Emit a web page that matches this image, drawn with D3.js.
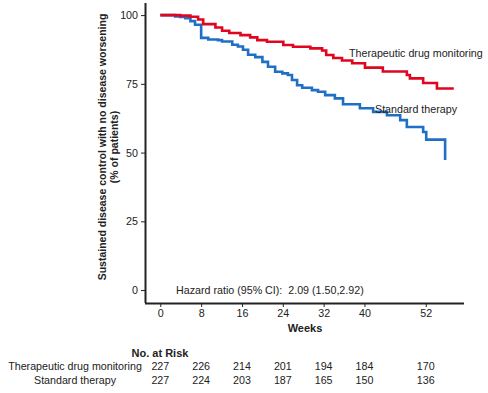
<!DOCTYPE html>
<html><head><meta charset="utf-8">
<script src="https://cdn.jsdelivr.net/npm/d3@7"></script>
<style>body{margin:0;background:#fff}text{font-family:"Liberation Sans",Arial,sans-serif;fill:#222}</style>
</head><body><svg id="c" width="488" height="393"></svg>
<script>
const xTicks=[0,8,16,24,32,40,52];
const yTicks=[0,25,50,75,100];
const seriesNames=["Therapeutic drug monitoring","Standard therapy"];
const tdmWeeks=[0,3.9,5.9,7.4,8.4,10.8,12.1,13.5,15.7,17.6,19.0,20.9,24.1,26.0,29.4,31.7,32.5,33.9,35.6,37.6,40.1,43.6,48.3,48.9,51.5,54.2,57.5];
const tdmValues=[100,99.8,99.4,98.4,96.7,95.5,94.3,93.5,92.7,91.9,90.9,90.3,89.1,88.5,87.9,87.1,85.5,84.4,83.5,82.5,80.9,79.5,78.2,77.0,75.3,73.3,73.3];
const stdWeeks=[0,2.9,3.9,4.9,5.9,6.8,8.0,9.4,11.3,12.1,14.1,15.2,16.2,17.2,18.6,20.0,21.1,22.5,23.9,25.0,25.8,26.8,27.8,29.7,30.9,32.3,34.2,35.8,39.1,41.7,44.4,47.0,48.3,51.5,52.1,55.6,55.8];
const stdValues=[100,99.5,99.3,98.9,97.8,96.5,91.7,91.1,90.9,90.4,89.2,88.6,87.4,85.6,84.7,83.0,81.2,79.4,78.8,78.2,76.4,74.5,73.6,72.7,72.1,70.9,69.7,67.6,66.1,64.8,63.6,61.8,59.3,57.5,54.7,54.7,47.3];
const riskTdm=[227,226,214,201,194,184,170];
const riskStd=[227,224,203,187,165,150,136];
const hazardText="Hazard ratio (95% CI):  2.09 (1.50,2.92)";

const svg=d3.select("#c");
const x=d3.scaleLinear().domain([-3,59.5]).range([145,464]);
const y=d3.scaleLinear().domain([-4.7,104.4]).range([303,3]);
const colors=["#e0061f","#1f6fc5"];

const line=d3.line().x(d=>x(d[0])).y(d=>y(d[1])).curve(d3.curveStepAfter);
const data=[tdmWeeks.map((w,i)=>[w,tdmValues[i]]),stdWeeks.map((w,i)=>[w,stdValues[i]])];
[1,0].forEach(k=>{
  svg.append("path").attr("d",line(data[k])).attr("fill","none").attr("stroke",colors[k]).attr("stroke-width",2.6);
});

const xa=svg.append("g").attr("transform","translate(0,303)").call(d3.axisBottom(x).tickValues(xTicks).tickSize(4).tickPadding(2));
const ya=svg.append("g").attr("transform","translate(145,0)").call(d3.axisLeft(y).tickValues(yTicks).tickSize(4).tickPadding(3));
[xa,ya].forEach(g=>{
  g.select(".domain").attr("stroke","#222").attr("stroke-width",2);
  g.selectAll(".tick line").attr("stroke","#222").attr("stroke-width",1);
  g.selectAll(".tick text").attr("fill","#222").style("font-size","10.7px").style("font-family",'"Liberation Sans",Arial,sans-serif');
});
xa.select(".domain").attr("d","M145,0.5H464");
ya.select(".domain").attr("d","M0.5,3V303");

svg.append("text").attr("x",305).attr("y",332).attr("text-anchor","middle").style("font-size","11px").style("font-weight","bold").text("Weeks");
const yl=svg.append("text").attr("transform","translate(106,147) rotate(-90)").attr("text-anchor","middle").style("font-size","10.5px").style("font-weight","bold");
yl.append("tspan").attr("x",0).attr("dy",0).text("Sustained disease control with no disease worsening");
yl.append("tspan").attr("x",0).attr("dy",12).text("(% of patients)");

svg.append("text").attr("x",176).attr("y",294).style("font-size","10.7px").style("white-space","pre").text(hazardText);

svg.append("text").attr("x",349).attr("y",57).style("font-size","10.7px").text(seriesNames[0]);
svg.append("text").attr("x",375).attr("y",113).style("font-size","10.7px").text(seriesNames[1]);

svg.append("text").attr("x",160).attr("y",357).attr("text-anchor","middle").style("font-size","11px").style("font-weight","bold").text("No. at Risk");
[riskTdm,riskStd].forEach((row,r)=>{
  const yy=370+r*14;
  svg.append("text").attr("x",75).attr("y",yy).attr("text-anchor","middle").style("font-size","10.7px").text(seriesNames[r]);
  svg.selectAll(null).data(row).enter().append("text").attr("x",(d,i)=>x(xTicks[i])).attr("y",yy).attr("text-anchor","middle").style("font-size","10.7px").text(d=>d);
});
</script></body></html>
